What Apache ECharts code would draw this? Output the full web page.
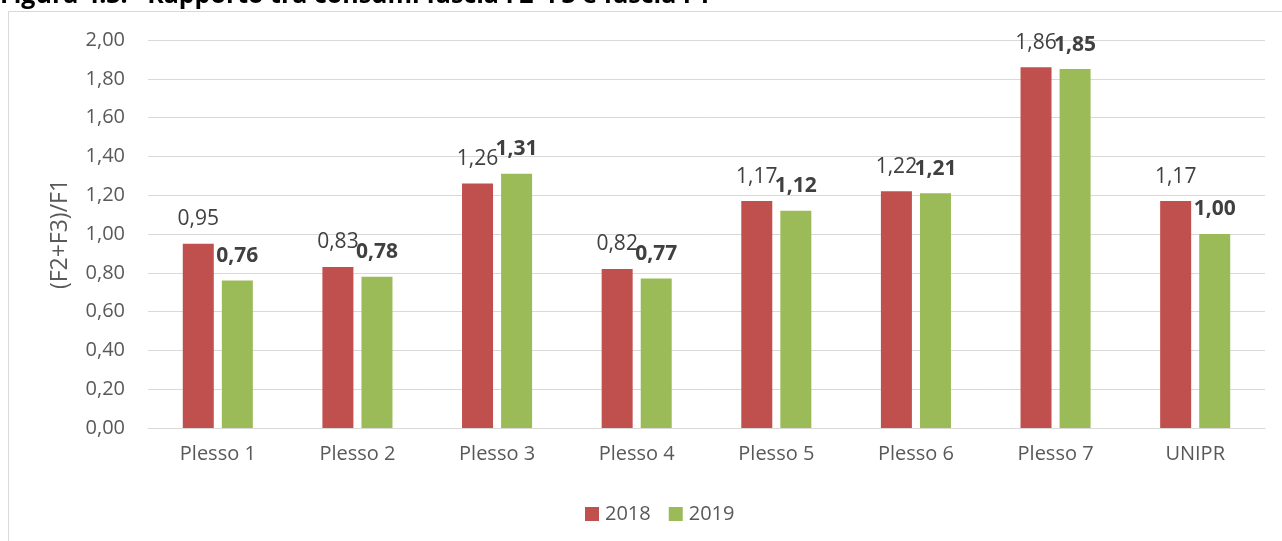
<!DOCTYPE html>
<html>
<head>
<meta charset="utf-8">
<script src="https://cdn.jsdelivr.net/npm/echarts@6/dist/echarts.min.js"></script>
<style>
  html, body { margin: 0; padding: 0; background: #fff; }
  #chart { width: 1282px; height: 541px; }
</style>
</head>
<body>
<div id="chart"></div>
<script>
  var categories = ['Plesso 1', 'Plesso 2', 'Plesso 3', 'Plesso 4', 'Plesso 5', 'Plesso 6', 'Plesso 7', 'UNIPR'];
  var values2018 = [0.95, 0.83, 1.26, 0.82, 1.17, 1.22, 1.86, 1.17];
  var values2019 = [0.76, 0.78, 1.31, 0.77, 1.12, 1.21, 1.85, 1.00];
  var seriesNames = ['2018', '2019'];

  var font = '"Open Sans", "DejaVu Sans", sans-serif';

  function fmt(v) {
    return v.toFixed(2).replace('.', ',');
  }

  var option = {
    animation: false,
    textStyle: { fontFamily: font },
    title: {
      text: 'Figura 4.3:   Rapporto tra consumi fascia F2+F3 e fascia F1',
      left: 0,
      top: -17,
      padding: 0,
      textStyle: { fontFamily: font, fontSize: 25, fontWeight: 'bold', color: '#000' }
    },
    graphic: [
      {
        type: 'rect',
        shape: { x: 8.5, y: 11.5, width: 1290, height: 560 },
        style: { fill: 'none', stroke: '#D9D9D9', lineWidth: 1 },
        silent: true
      }
    ],
    grid: { left: 148, right: 17, top: 40, bottom: 113 },
    legend: {
      data: seriesNames,
      left: 580,
      top: 499,
      itemWidth: 14,
      itemHeight: 14,
      itemGap: 18,
      icon: 'rect',
      textStyle: { fontFamily: font, fontSize: 20, color: '#595959', padding: [0, 0, 0, 1] }
    },
    xAxis: {
      type: 'category',
      data: categories,
      axisLine: { lineStyle: { color: '#D9D9D9', width: 1 } },
      axisTick: { show: false },
      axisLabel: { fontFamily: font, fontSize: 20, color: '#595959', margin: 16 }
    },
    yAxis: {
      type: 'value',
      min: 0,
      max: 2,
      interval: 0.2,
      name: '(F2+F3)/F1',
      nameLocation: 'middle',
      nameGap: 76,
      nameTextStyle: { fontFamily: font, fontSize: 23, color: '#595959' },
      axisLine: { show: false },
      axisTick: { show: false },
      splitLine: { lineStyle: { color: '#D9D9D9', width: 1 } },
      axisLabel: {
        fontFamily: font, fontSize: 20, color: '#595959', margin: 23,
        formatter: function (v) { return fmt(v); }
      }
    },
    series: [
      {
        name: seriesNames[0],
        type: 'bar',
        data: values2018,
        barWidth: 31,
        barGap: '26%',
        itemStyle: { color: '#C0504D' },
        label: {
          show: true,
          position: 'top',
          distance: 14,
          fontFamily: font,
          fontSize: 21,
          color: '#404040',
          formatter: function (p) { return fmt(p.value); }
        }
      },
      {
        name: seriesNames[1],
        type: 'bar',
        data: values2019,
        barWidth: 31,
        itemStyle: { color: '#9BBB59' },
        label: {
          show: true,
          position: 'top',
          distance: 14,
          fontFamily: font,
          fontSize: 21,
          fontWeight: 'bold',
          color: '#404040',
          formatter: function (p) { return fmt(p.value); }
        }
      }
    ]
  };

  echarts.init(document.getElementById('chart')).setOption(option);
</script>
</body>
</html>
